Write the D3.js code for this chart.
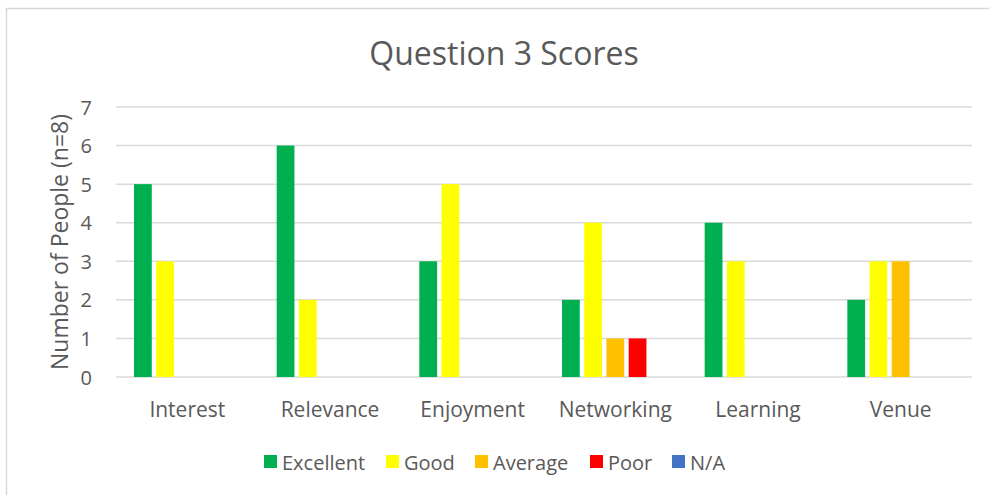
<!DOCTYPE html>
<html>
<head>
<meta charset="utf-8">
<script src="https://cdn.jsdelivr.net/npm/d3@7/dist/d3.min.js"></script>
<style>
  body { margin: 0; background: #fff; }
  text { font-family: "Open Sans", sans-serif; fill: #595959; }
</style>
</head>
<body>
<svg id="chart" width="989" height="495"></svg>
<script>
// chart data
const categories = ["Interest", "Relevance", "Enjoyment", "Networking", "Learning", "Venue"];
const series = ["Excellent", "Good", "Average", "Poor", "N/A"];
const colours = ["#00B050", "#FFFF00", "#FFC000", "#FF0000", "#4472C4"];
const excellent = [5, 6, 3, 2, 4, 2];
const good = [3, 2, 5, 4, 3, 3];
const average = [0, 0, 0, 1, 0, 3];
const poor = [0, 0, 0, 1, 0, 0];
const na = [0, 0, 0, 0, 0, 0];
const yTicks = [0, 1, 2, 3, 4, 5, 6, 7];

const values = [excellent, good, average, poor, na];

let svg = d3.select("#chart");
const plot = { left: 116, right: 972, top: 107, bottom: 377 };

// outer chart border
svg.append("rect")
  .attr("x", 6.5).attr("y", 8.5)
  .attr("width", 1000).attr("height", 1000)
  .attr("fill", "none")
  .attr("stroke", "#d9d9d9")
  .attr("stroke-width", 1.5);

let xScale = d3.scaleBand()
  .domain(categories)
  .range([plot.left, plot.right]);

let innerScale = d3.scaleBand()
  .domain(series)
  .range([18, xScale.bandwidth() - 18])
  .paddingInner(0.2);

let yScale = d3.scaleLinear()
  .domain([0, 7])
  .range([plot.bottom, plot.top]);

// gridlines
svg.append("g")
  .selectAll("line")
  .data(yTicks)
  .enter()
  .append("line")
  .attr("x1", plot.left)
  .attr("x2", plot.right)
  .attr("y1", d => yScale(d))
  .attr("y2", d => yScale(d))
  .attr("stroke", "#d9d9d9")
  .attr("stroke-width", 1.5);

// y tick labels
svg.append("g")
  .selectAll("text")
  .data(yTicks)
  .enter()
  .append("text")
  .attr("x", 92)
  .attr("y", d => yScale(d))
  .attr("text-anchor", "end")
  .attr("dominant-baseline", "central")
  .attr("font-size", "20px")
  .text(d => d);

// bars
let groups = svg.append("g")
  .selectAll("g")
  .data(categories)
  .enter()
  .append("g")
  .attr("transform", d => "translate(" + xScale(d) + ",0)");

groups.selectAll("rect")
  .data((d, i) => series.map((s, j) => ({ s: s, v: values[j][i], c: colours[j] })))
  .enter()
  .append("rect")
  .attr("x", d => innerScale(d.s))
  .attr("y", d => yScale(d.v))
  .attr("width", innerScale.bandwidth())
  .attr("height", d => yScale(0) - yScale(d.v))
  .attr("fill", d => d.c);

// x labels
svg.append("g")
  .selectAll("text")
  .data(categories)
  .enter()
  .append("text")
  .attr("x", d => xScale(d) + xScale.bandwidth() / 2)
  .attr("y", 409)
  .attr("text-anchor", "middle")
  .attr("dominant-baseline", "central")
  .attr("font-size", "21px")
  .text(d => d);

// y axis title
svg.append("text")
  .attr("transform", "translate(59," + (plot.top + plot.bottom) / 2 + ") rotate(-90)")
  .attr("text-anchor", "middle")
  .attr("dominant-baseline", "central")
  .attr("font-size", "23px")
  .text("Number of People (n=8)");

// title
svg.append("text")
  .attr("x", 504)
  .attr("y", 52)
  .attr("text-anchor", "middle")
  .attr("dominant-baseline", "central")
  .attr("font-size", "32px")
  .text("Question 3 Scores");

// legend
const legendX = [264, 386, 475, 590, 672];
let legend = svg.append("g")
  .selectAll("g")
  .data(series)
  .enter()
  .append("g")
  .attr("transform", (d, i) => "translate(" + legendX[i] + ",455)");

legend.append("rect")
  .attr("width", 13)
  .attr("height", 13)
  .attr("fill", (d, i) => colours[i]);

legend.append("text")
  .attr("x", 18)
  .attr("y", 7)
  .attr("dominant-baseline", "central")
  .attr("font-size", "20px")
  .text(d => d);
</script>
</body>
</html>
